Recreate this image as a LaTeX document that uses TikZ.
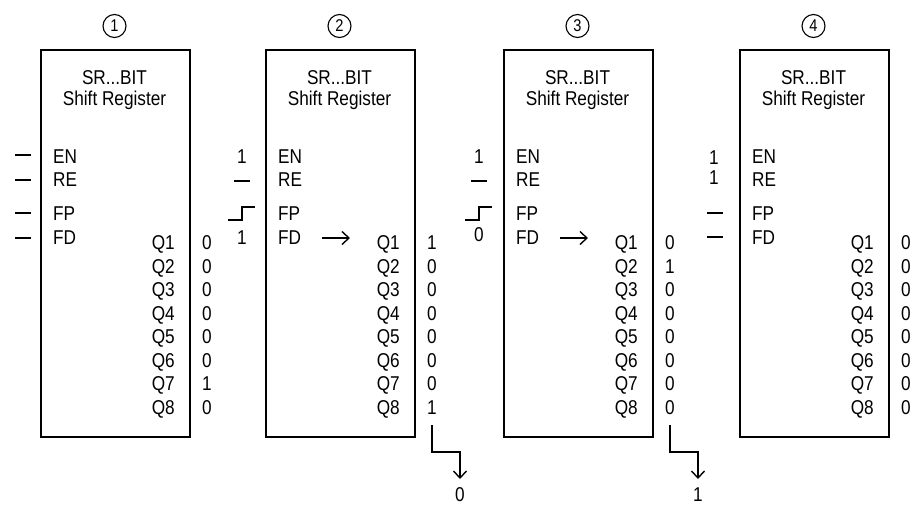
\documentclass[tikz,border=0pt]{standalone}
\usepackage{fontspec}
\setmainfont{Liberation Sans}
\newfontfamily\condfont[FakeStretch=0.86]{Liberation Sans}
\usetikzlibrary{arrows.meta}
\newcommand\fs{\condfont\fontsize{20pt}{22pt}\selectfont}
\tikzset{
  lbl/.style={inner sep=0pt, font=\fs},
  regbox/.style={draw, line width=1.5pt, minimum width=149pt, minimum height=387pt, anchor=north west, inner sep=0pt},
  circ/.style={draw, circle, line width=1.1pt, minimum size=23pt, inner sep=0pt, font=\condfont\fontsize{17pt}{19pt}\selectfont},
  sig/.style={line width=1.5pt},
  arr/.style={line width=1.4pt, -{Straight Barb[length=7pt,width=13pt,line width=1.4pt]}},
}
% #1 name, #2 left x, #3 circled number, #4 Q values list i/v
\newcommand\regblock[4]{%
  \begin{scope}[shift={(#2,0)}]
    \node[regbox] (#1) at (0,49) {};
    \node[circ] (#1c) at (74.5,26) {#3};
    \node[lbl] (#1ta) at (74.5,78) {SR...BIT};
    \node[lbl] (#1tb) at (74.5,100) {Shift Register};
    \node[lbl,anchor=base west] (#1en) at (13,163.5) {EN};
    \node[lbl,anchor=base west] (#1re) at (13,186.5) {RE};
    \node[lbl,anchor=base west] (#1fp) at (13,220.5) {FP};
    \node[lbl,anchor=base west] (#1fd) at (13,244.5) {FD};
    \foreach \i/\v in {#4} {
      \node[lbl,anchor=base east] (#1q\i) at (135,{249.5+23.5*(\i-1)}) {Q\i};
      \node[lbl,anchor=base] (#1v\i) at (167,{249.5+23.5*(\i-1)}) {\v};
    }
  \end{scope}}
\newcommand\dashsig[2]{\draw[sig] ({#1-8},#2) -- ({#1+8},#2);}
\newcommand\stepsig[1]{\draw[sig] ({#1-14},220) -- (#1,220) -- (#1,207) -- ({#1+13},207);}
\begin{document}
\begin{tikzpicture}[x=1pt,y=-1pt]
  \useasboundingbox (0,0) rectangle (911,504);
  % block 1
  \regblock{ba}{40}{1}{1/0,2/0,3/0,4/0,5/0,6/0,7/1,8/0}
  \dashsig{23}{155}
  \dashsig{23}{180}
  \dashsig{23}{213}
  \dashsig{23}{238}
  % block 2
  \regblock{bb}{265}{2}{1/1,2/0,3/0,4/0,5/0,6/0,7/0,8/1}
  \node[lbl,anchor=base] (bbi1) at (242,163.5) {1};
  \dashsig{242}{181}
  \stepsig{242}
  \node[lbl,anchor=base] (bbi4) at (242,244.5) {1};
  \coordinate (bba1) at (322,238);
  \coordinate (bba2) at (350,238);
  \draw[arr] (bba1) -- (bba2);
  \coordinate (bbo1) at (432,425);
  \coordinate (bbo2) at (460,452);
  \coordinate (bbo3) at (460,479);
  \node[lbl,anchor=base] (bbout) at (460,501.5) {0};
  \draw[arr] (bbo1) |- (bbo2) -- (bbo3);
  % block 3
  \regblock{bc}{503}{3}{1/0,2/1,3/0,4/0,5/0,6/0,7/0,8/0}
  \node[lbl,anchor=base] (bci1) at (479,163.5) {1};
  \dashsig{479}{181}
  \stepsig{479}
  \node[lbl,anchor=base] (bci4) at (479,241.5) {0};
  \coordinate (bca1) at (560,238);
  \coordinate (bca2) at (588,238);
  \draw[arr] (bca1) -- (bca2);
  \coordinate (bco1) at (670,425);
  \coordinate (bco2) at (698,452);
  \coordinate (bco3) at (698,479);
  \node[lbl,anchor=base] (bcout) at (698,501.5) {1};
  \draw[arr] (bco1) |- (bco2) -- (bco3);
  % block 4
  \regblock{bd}{739}{4}{1/0,2/0,3/0,4/0,5/0,6/0,7/0,8/0}
  \node[lbl,anchor=base] (bdi1) at (714,164) {1};
  \node[lbl,anchor=base] (bdi2) at (714,184.5) {1};
  \dashsig{715}{213}
  \dashsig{715}{237}
\end{tikzpicture}
\end{document}
